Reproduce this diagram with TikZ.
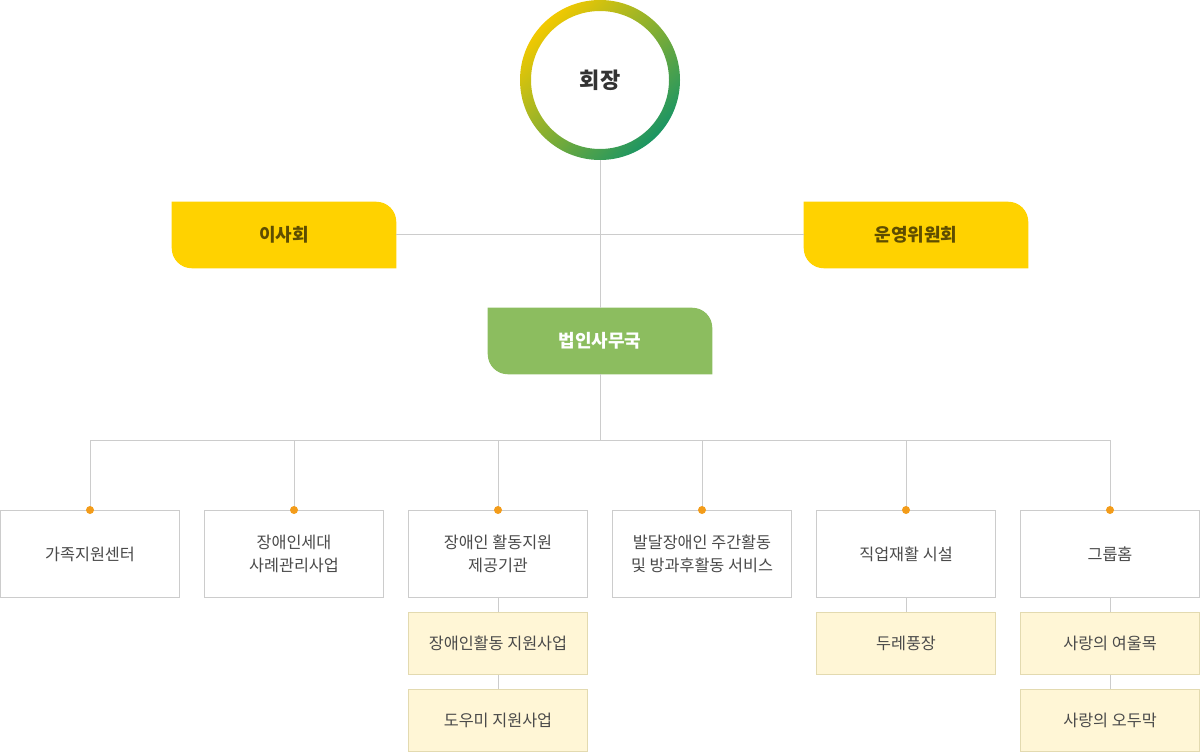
\documentclass[tikz,border=0pt]{standalone}
\usepackage{fontspec}
\setmainfont{Noto Sans CJK KR}
\definecolor{linec}{HTML}{CCCCCC}
\definecolor{ybox}{HTML}{FFD200}
\definecolor{gbox}{HTML}{8CBD5F}
\definecolor{subfill}{HTML}{FFF6D6}
\definecolor{subline}{HTML}{E3DAB0}
\definecolor{dotc}{HTML}{F39C1A}
\definecolor{txt}{HTML}{4A4A4A}
\definecolor{ytxt}{HTML}{5E4D00}
\definecolor{ringY}{HTML}{F2C900}
\definecolor{ringG}{HTML}{1B9563}
\tikzset{
  conn/.style={draw=linec, line width=0.75pt},
  topbox/.style={minimum width=168pt, minimum height=49.5pt, inner sep=0pt, font=\fontsize{13.5}{16}\selectfont\bfseries},
  leaf/.style={draw=linec, line width=0.75pt, fill=white, minimum width=134.25pt, minimum height=65.25pt, inner sep=0pt, align=center, text=txt, font=\fontsize{12.2}{17.5}\selectfont},
  subbox/.style={draw=subline, line width=0.75pt, fill=subfill, minimum width=134.25pt, minimum height=46.5pt, inner sep=0pt, text=txt, font=\fontsize{12.2}{17.5}\selectfont},
  dot/.style={circle, fill=dotc, inner sep=0pt, minimum size=6pt}
}
\begin{document}
\begin{tikzpicture}[x=0.75pt,y=-0.75pt]
\useasboundingbox (0,0) rectangle (1200,752);
% nodes
\node[circle, minimum size=120pt, inner sep=0pt, font=\fontsize{16.5}{20}\selectfont\bfseries, text=black!80] (ceo) at (600,80) {회장};
\node[topbox] (board) at (284,235) {};
\node[topbox] (comm) at (916,235) {};
\node[topbox] (office) at (600,341) {};
% top boxes shapes
\foreach \n/\c in {board/ybox, comm/ybox, office/gbox}{
  \fill[\c] (\n.north west) -- ([xshift=-15pt]\n.north east) arc[start angle=90, end angle=0, radius=15pt]
    -- (\n.south east) -- ([xshift=15pt]\n.south west) arc[start angle=270, end angle=180, radius=15pt] -- cycle;
}
\node[topbox, text=ytxt] at (board) {이사회};
\node[topbox, text=ytxt] at (comm) {운영위원회};
\node[topbox, text=white] at (office) {법인사무국};
% ring
\path[even odd rule, shade, top color=ringY, bottom color=ringG, shading angle=45]
  (600,80) circle[radius=60pt] (600,80) circle[radius=51.75pt];
% connectors top
\draw[conn] (ceo.south) -- (office.north);
\draw[conn] (board.east) -- (comm.west);
\coordinate (bus) at (600,440);
\draw[conn] (office.south) -- (bus);
% leaves
\node[leaf] (l1) at (90,554) {가족지원센터};
\node[leaf] (l2) at (294,554) {장애인세대\\사례관리사업};
\node[leaf] (l3) at (498,554) {장애인 활동지원\\제공기관};
\node[leaf] (l4) at (702,554) {발달장애인 주간활동\\및 방과후활동 서비스};
\node[leaf] (l5) at (906,554) {직업재활 시설};
\node[leaf] (l6) at (1110,554) {그룹홈};
\foreach \l in {l1,l2,l3,l4,l5,l6}{
  \draw[conn] (bus) -| (\l.north);
}
\foreach \l in {l1,l2,l3,l4,l5,l6}{
  \node[dot] at (\l.north) {};
}
% sub boxes
\node[subbox] (s31) at (498,643.5) {장애인활동 지원사업};
\node[subbox] (s32) at (498,720.5) {도우미 지원사업};
\node[subbox] (s51) at (906,643.5) {두레풍장};
\node[subbox] (s61) at (1110,643.5) {사랑의 여울목};
\node[subbox] (s62) at (1110,720.5) {사랑의 오두막};
\draw[conn] (l3.south) -- (s31.north);
\draw[conn] (s31.south) -- (s32.north);
\draw[conn] (l5.south) -- (s51.north);
\draw[conn] (l6.south) -- (s61.north);
\draw[conn] (s61.south) -- (s62.north);
\end{tikzpicture}
\end{document}
